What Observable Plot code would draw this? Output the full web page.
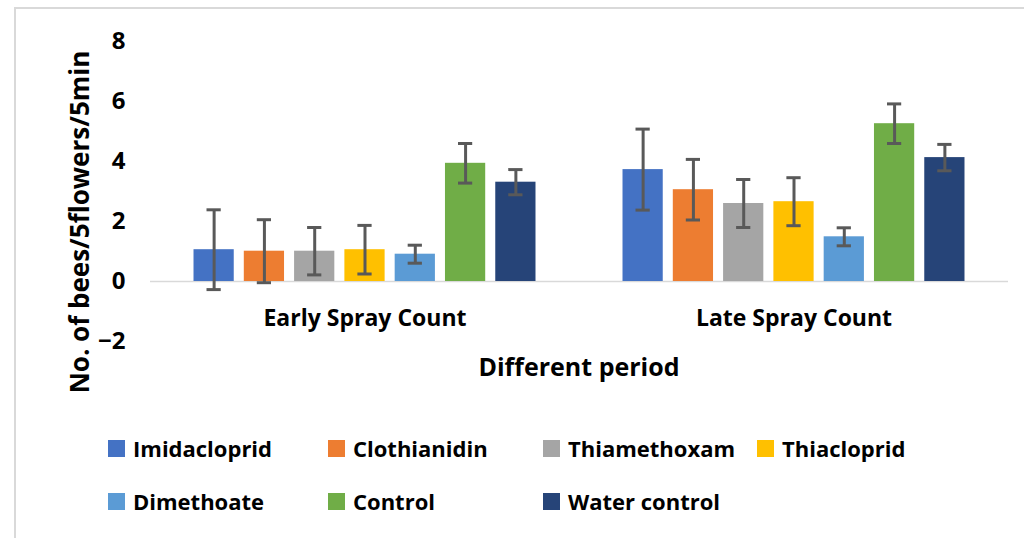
<!DOCTYPE html>
<html><head><meta charset="utf-8">
<script src="https://cdn.jsdelivr.net/npm/d3@7"></script>
<script src="https://cdn.jsdelivr.net/npm/@observablehq/plot@0.6"></script>
<style>
body{margin:0;background:#fff;font-family:"Open Sans",Lato,sans-serif;}
#wrap{position:relative;width:1024px;height:538px;overflow:hidden;background:#fff;}
#frame{position:absolute;left:14px;top:7px;width:1020px;height:540px;border-top:2px solid #d9d9d9;border-left:2px solid #d9d9d9;}
#chart{position:absolute;left:0;top:0;}
#ytitle{position:absolute;left:79px;top:222px;transform:translate(-50%,-50%) rotate(-90deg);white-space:nowrap;font-weight:700;font-size:26px;color:#000;line-height:1;}
#xtitle{position:absolute;left:579px;top:366px;transform:translate(-50%,-50%);white-space:nowrap;font-weight:700;font-size:25px;color:#000;line-height:1;}
#legend{position:absolute;left:108px;top:433px;width:900px;}
.item{position:absolute;display:flex;align-items:center;height:30px;font-weight:700;font-size:22px;color:#000;white-space:nowrap;}
.sw{width:17px;height:17px;margin-right:8px;}
</style></head>
<body>
<div id="wrap">
<div id="frame"></div>
<div id="chart"></div>
<div id="ytitle">No. of bees/5flowers/5min</div>
<div id="xtitle">Different period</div>
<div id="legend"></div>
</div>
<script>
const periods = ["Early Spray Count", "Late Spray Count"];
const treatments = ["Imidacloprid", "Clothianidin", "Thiamethoxam", "Thiacloprid", "Dimethoate", "Control", "Water control"];
const colors = ["#4472C4", "#ED7D31", "#A5A5A5", "#FFC000", "#5B9BD5", "#70AD47", "#264478"];
const earlyMeans = [1.06, 1.01, 1.01, 1.06, 0.91, 3.94, 3.31];
const earlyErr = [1.33, 1.05, 0.79, 0.81, 0.30, 0.66, 0.42];
const lateMeans = [3.73, 3.06, 2.60, 2.66, 1.49, 5.26, 4.13];
const lateErr = [1.35, 1.01, 0.80, 0.80, 0.30, 0.66, 0.44];
const yTicks = [-2, 0, 2, 4, 6, 8];

const rows = [];
treatments.forEach((t, i) => {
  rows.push({period: periods[0], treatment: t, mean: earlyMeans[i], err: earlyErr[i]});
  rows.push({period: periods[1], treatment: t, mean: lateMeans[i], err: lateErr[i]});
});

const chart = Plot.plot({
  width: 1024,
  height: 392,
  marginLeft: 150,
  marginRight: 16,
  marginTop: 41,
  marginBottom: 51,
  style: {fontFamily: "'Open Sans', Lato, sans-serif", background: "transparent", color: "#000"},
  y: {domain: [-2, 8]},
  fx: {domain: periods, padding: 0, round: false},
  x: {domain: treatments, paddingInner: 0.2, paddingOuter: 0.865, round: false},
  color: {domain: treatments, range: colors},
  marks: [
    Plot.ruleY([0], {stroke: "#d9d9d9", strokeWidth: 1.5}),
    Plot.barY(rows, {fx: "period", x: "treatment", y: "mean", fill: "treatment"}),
    Plot.ruleX(rows, {fx: "period", x: "treatment", y1: d => d.mean - d.err, y2: d => d.mean + d.err, stroke: "#595959", strokeWidth: 3}),
    Plot.tickY(rows, {fx: "period", x: "treatment", y: d => d.mean - d.err, stroke: "#595959", strokeWidth: 3, insetLeft: 13, insetRight: 13}),
    Plot.tickY(rows, {fx: "period", x: "treatment", y: d => d.mean + d.err, stroke: "#595959", strokeWidth: 3, insetLeft: 13, insetRight: 13}),
    Plot.axisY({ticks: yTicks, tickSize: 0, tickPadding: 25, fontSize: 24, fontWeight: 700, label: null}),
    Plot.axisFx({anchor: "bottom", tickSize: 0, tickPadding: 0, dy: -23, lineAnchor: "middle", fontSize: 23, fontWeight: 700, label: null}),
    Plot.axisX({ticks: [], label: null})
  ]
});
document.getElementById("chart").appendChild(chart);

const legend = document.getElementById("legend");
const pos = [[0,0],[220,0],[435,0],[649,0],[0,53],[220,53],[435,53]];
treatments.forEach((t, i) => {
  const it = document.createElement("div");
  it.className = "item";
  it.style.left = pos[i][0] + "px";
  it.style.top = pos[i][1] + "px";
  const sw = document.createElement("span");
  sw.className = "sw";
  sw.style.background = colors[i];
  it.appendChild(sw);
  it.appendChild(document.createTextNode(t));
  legend.appendChild(it);
});
</script>
</body></html>
